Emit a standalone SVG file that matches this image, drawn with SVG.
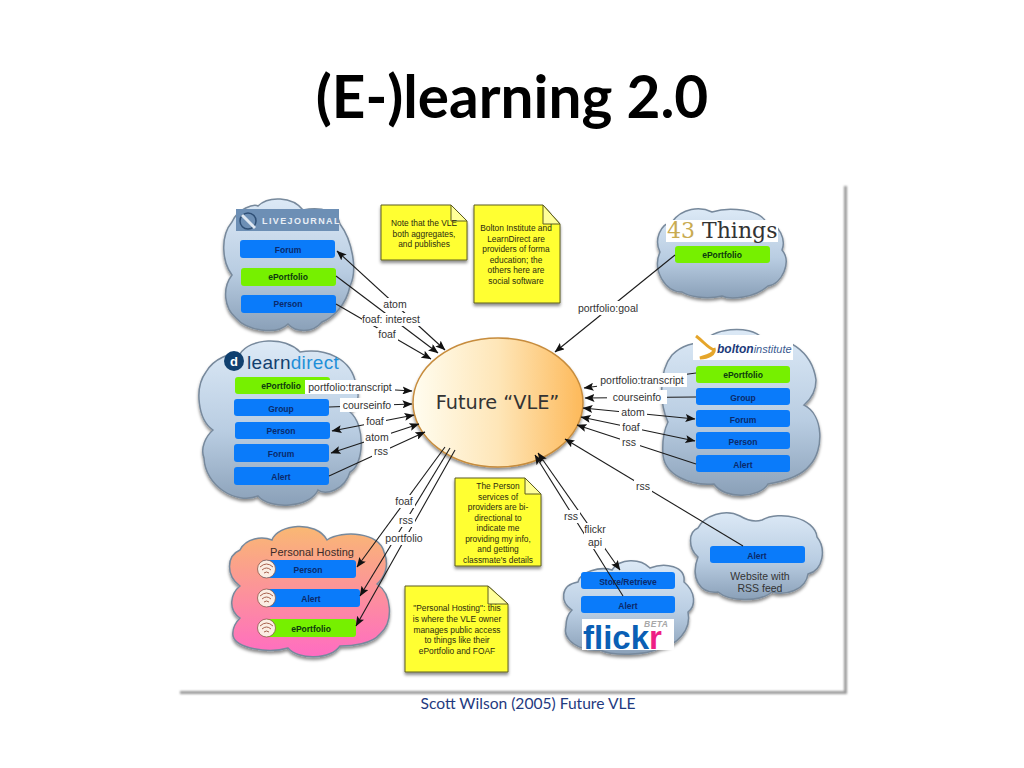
<svg xmlns="http://www.w3.org/2000/svg" width="1024" height="768" viewBox="0 0 1024 768">
<style>
text{font-family:"Liberation Sans",Arial,sans-serif}
.cloud{stroke:#77899c;stroke-width:1.5;filter:url(#sh)}
.blue{fill:url(#cb)}
.box{fill:#0a7bfa}
.green{fill:#76f000}
.bt{font-size:8.5px;font-weight:bold;fill:#0b2a6b;text-anchor:middle}
.gt{font-size:8.5px;font-weight:bold;fill:#0c3a10;text-anchor:middle}
.note{fill:#ffff33;stroke:#5c5c20;stroke-width:1;filter:url(#sh)}
.fold{fill:#ffff99;stroke:#5c5c20;stroke-width:1}
.nt{font-size:8.4px;fill:#2b2b10;text-anchor:middle}
.ln{stroke:#1c1c1c;stroke-width:1.1;fill:none}
.lab{font-size:10.5px;fill:#333;text-anchor:middle}
.bg{fill:#fff}
.ar{marker-end:url(#a)}
.as{marker-start:url(#a)}
.wifi{fill:#fbeee4;stroke:#8a5a4a;stroke-width:.8}
.arc{fill:none;stroke:#a8604c;stroke-width:1}
</style>
<defs>
<linearGradient id="cb" x1="0" y1="0" x2="0" y2="1"><stop offset="0" stop-color="#dce9f6"/><stop offset=".55" stop-color="#b9cde2"/><stop offset="1" stop-color="#8aa0b8"/></linearGradient>
<linearGradient id="cp" x1="0" y1="0" x2="0" y2="1"><stop offset="0" stop-color="#f9b873"/><stop offset="1" stop-color="#ff6cc2"/></linearGradient>
<linearGradient id="el" x1="0" y1="0" x2="1" y2="0"><stop offset="0" stop-color="#fffdf0"/><stop offset=".5" stop-color="#fee6b8"/><stop offset="1" stop-color="#fdb95a"/></linearGradient>
<filter id="sh" x="-10%" y="-10%" width="125%" height="125%"><feDropShadow dx="0" dy="2.5" stdDeviation="1.8" flood-color="#000" flood-opacity=".45"/></filter>
<filter id="fs" x="-5%" y="-5%" width="110%" height="110%"><feGaussianBlur stdDeviation="1"/></filter>
<marker id="a" viewBox="0 0 10 8" refX="9.5" refY="4" markerWidth="10" markerHeight="8" markerUnits="userSpaceOnUse" orient="auto-start-reverse"><path d="M0,0L10,4L0,8L2,4Z" fill="#111"/></marker>
</defs>
<rect width="1024" height="768" fill="#fff"/>
<text x="512" y="118" font-size="58.500" font-weight="bold" text-anchor="middle" fill="#000" style="font-family:Lato,'Open Sans',sans-serif">(E-)learning 2.0</text>
<g id="frame">
<path d="M845.500,186V692.500H180" fill="none" stroke="#9a9a9a" stroke-width="3" filter="url(#fs)"/>
</g>
<text x="528" y="709" font-size="15.600" text-anchor="middle" fill="#1f3a80" style="font-family:Lato,'Open Sans',sans-serif">Scott Wilson (2005) Future VLE</text>

<g id="livejournal">
<path class="cloud blue" d="M232,275C222,262 220,236 232,222C238,208 254,204 258,206C268,196 292,196 303,210C322,206 338,212 340,224C352,240 358,270 350,286C346,306 332,318 322,322C312,334 295,332 288,324C276,336 246,330 236,318C224,308 222,288 232,275Z"/>
<rect x="236" y="209" width="103" height="22" fill="#6d8fb5"/>
<circle cx="248" cy="221" r="8" fill="none" stroke="#2f4f75" stroke-width="1.500"/>
<path d="M242,215L255,228" stroke="#dfe8f2" stroke-width="3"/>
<text x="262" y="224" font-size="9" font-weight="bold" fill="#e8eef5" letter-spacing="1.400">LIVEJOURNAL</text>
<rect class="box" x="240" y="240" width="95" height="18" rx="3"/><text class="bt" x="288" y="253">Forum</text>
<rect class="green" x="241" y="268" width="95" height="18" rx="3"/><text class="gt" x="288" y="280">ePortfolio</text>
<rect class="box" x="241" y="295" width="95" height="18" rx="3"/><text class="bt" x="288" y="307">Person</text>
</g>

<g id="learndirect">
<path class="cloud blue" d="M213,430C198,420 194,388 206,372C214,358 232,352 240,354C250,338 285,336 300,352C325,348 352,358 356,385C360,395 358,405 350,412C366,425 364,465 350,472C345,490 325,496 318,490C310,508 270,510 258,496C235,505 205,485 204,458C200,448 206,436 213,430Z"/>
<circle cx="234" cy="361" r="10" fill="#10406f"/>
<text x="234" y="366" font-size="13" font-weight="bold" fill="#fff" text-anchor="middle">d</text>
<text x="247" y="369" font-size="19" fill="#123f6e" letter-spacing=".3">learn<tspan fill="#1f8fd8">direct</tspan></text>
<rect class="green" x="235" y="377" width="95" height="17" rx="3"/><text class="gt" x="281" y="389">ePortfolio</text>
<rect class="box" x="234" y="399" width="95" height="17" rx="3"/><text class="bt" x="281" y="412">Group</text>
<rect class="box" x="235" y="422" width="95" height="17" rx="3"/><text class="bt" x="281" y="434">Person</text>
<rect class="box" x="234" y="444" width="95" height="18" rx="3"/><text class="bt" x="281" y="457">Forum</text>
<rect class="box" x="234" y="467" width="95" height="18" rx="3"/><text class="bt" x="281" y="480">Alert</text>
</g>

<g id="things43">
<path class="cloud blue" d="M660,252C654,240 660,224 672,222C682,208 700,206 712,212C730,206 760,210 766,222C780,224 786,240 782,250C792,262 782,284 768,286C755,298 730,300 722,296C705,300 688,296 682,292C665,292 652,270 660,252Z"/>
<rect x="666" y="220" width="112" height="22" fill="#fff"/>
<text x="667" y="238" font-size="22" style="font-family:'DejaVu Serif',serif" fill="#c9ab52">43 <tspan fill="#333">Things</tspan></text>
<rect class="green" x="675" y="246" width="95" height="17" rx="3"/><text class="gt" x="722" y="258">ePortfolio</text>
</g>

<g id="bolton">
<path class="cloud blue" d="M668,422C660,405 658,372 672,355C682,345 695,342 702,344C710,328 750,324 762,338C785,335 812,350 816,380C816,392 810,400 804,405C824,415 824,450 810,465C800,478 780,482 768,484C760,498 725,500 714,484C690,486 665,475 663,455C662,440 664,430 668,422Z"/>
<rect x="693" y="335" width="100" height="25" fill="#fff"/>
<path d="M696,336C704,342 708,348 714,350C714,354 706,356 700,358C708,358 716,354 714,348" fill="none" stroke="#e5a52a" stroke-width="3"/>
<text x="717" y="353" font-size="12" font-style="italic" fill="#1c3a7a"><tspan font-weight="bold">bolton</tspan><tspan font-size="11" fill="#3a5a90">institute</tspan></text>
<rect class="green" x="696" y="366" width="94" height="17" rx="3"/><text class="gt" x="743" y="378">ePortfolio</text>
<rect class="box" x="696" y="388" width="94" height="17" rx="3"/><text class="bt" x="743" y="401">Group</text>
<rect class="box" x="696" y="410" width="94" height="17" rx="3"/><text class="bt" x="743" y="423">Forum</text>
<rect class="box" x="696" y="432" width="94" height="17" rx="3"/><text class="bt" x="743" y="445">Person</text>
<rect class="box" x="696" y="455" width="94" height="17" rx="3"/><text class="bt" x="743" y="468">Alert</text>
</g>

<g id="personal-hosting">
<path class="cloud" fill="url(#cp)" d="M240,586C226,576 226,556 240,550C246,538 262,536 272,540C278,524 316,520 327,540C342,530 380,532 384,552C390,566 384,578 377,584C392,594 394,622 380,634C372,644 352,646 340,646C330,660 298,660 288,648C268,654 236,648 233,636C232,628 236,622 240,618C228,610 230,594 240,586Z"/>
<text x="312" y="556" font-size="11" fill="#3a2a2a" text-anchor="middle">Personal Hosting</text>
<rect class="box" x="262" y="560" width="94" height="18" rx="3"/><text class="bt" x="308" y="573">Person</text>
<rect class="box" x="265" y="589" width="95" height="18" rx="3"/><text class="bt" x="311" y="602">Alert</text>
<rect class="green" x="265" y="619" width="91" height="18" rx="3"/><text class="gt" x="311" y="632">ePortfolio</text>
<g id="wifi-icons">
<circle class="wifi" cx="266.500" cy="569" r="9"/><path class="arc" d="M260,567Q266.500,561 273,567M262,570Q266.500,566 271,570M264,573Q266.500,571 269,573"/>
<circle class="wifi" cx="266.500" cy="598" r="9"/><path class="arc" d="M260,596Q266.500,590 273,596M262,599Q266.500,595 271,599M264,602Q266.500,600 269,602"/>
<circle class="wifi" cx="266.500" cy="628" r="9"/><path class="arc" d="M260,626Q266.500,620 273,626M262,629Q266.500,625 271,629M264,632Q266.500,630 269,632"/>
</g>
</g>

<g id="website">
<path class="cloud blue" d="M698,557C688,548 688,532 698,528C704,516 725,508 740,516C750,522 756,522 762,520C780,510 815,518 817,537C826,548 824,570 808,574C806,590 785,596 772,592C760,602 730,602 718,592C700,594 690,578 698,557Z"/>
<rect class="box" x="710" y="546" width="95" height="17" rx="3"/><text class="bt" x="757" y="559">Alert</text>
<text x="760" y="580" font-size="10.500" fill="#333" text-anchor="middle">Website with</text>
<text x="760" y="592" font-size="10.500" fill="#333" text-anchor="middle">RSS feed</text>
</g>

<g id="flickr">
<path class="cloud blue" d="M572,610C560,602 560,585 578,582C580,572 600,566 612,570C620,558 640,558 650,568C665,562 686,566 684,582C696,592 696,606 688,612C692,630 676,646 660,648C645,656 612,656 600,650C580,652 562,640 566,626C566,620 568,614 572,610Z"/>
<rect class="box" x="581" y="572" width="94" height="17" rx="3"/><text class="bt" x="628" y="585">Store/Retrieve</text>
<rect class="box" x="581" y="596" width="94" height="17" rx="3"/><text class="bt" x="628" y="609">Alert</text>
<rect x="582" y="619" width="92" height="31" fill="#fff"/>
<text x="583" y="649" font-size="33" font-weight="bold" fill="#0a5fb5">flick<tspan fill="#ee1f85">r</tspan></text>
<text x="644" y="627" font-size="8.500" font-weight="bold" font-style="italic" fill="#a8a8a8" letter-spacing=".5">BETA</text>
</g>

<g id="note-aggregates">
<path class="note" d="M381,205H451L467,221V260H381Z"/><path class="fold" d="M451,205V221H467Z"/>
<text class="nt" x="424" y="226">Note that the VLE</text><text class="nt" x="424" y="237">both aggregates,</text><text class="nt" x="424" y="247">and publishes</text>
</g>
<g id="note-bolton">
<path class="note" d="M474,205H543L560,224V303H474Z"/><path class="fold" d="M543,205V224H560Z"/>
<text class="nt" x="516" y="231">Bolton Institute and</text><text class="nt" x="516" y="242">LearnDirect are</text><text class="nt" x="516" y="252">providers of forma</text><text class="nt" x="516" y="263">education; the</text><text class="nt" x="516" y="273">others here are</text><text class="nt" x="516" y="284">social software</text>
</g>
<g id="note-person">
<path class="note" d="M455,478H525L541,494V566H455Z"/><path class="fold" d="M525,478V494H541Z"/>
<text class="nt" x="498" y="489">The Person</text><text class="nt" x="498" y="499.500">services of</text><text class="nt" x="498" y="510">providers are bi-</text><text class="nt" x="498" y="520.500">directional to</text><text class="nt" x="498" y="531">indicate me</text><text class="nt" x="498" y="541.500">providing my info,</text><text class="nt" x="498" y="552">and getting</text><text class="nt" x="498" y="562.500">classmate's details</text>
</g>
<g id="note-hosting">
<path class="note" d="M405,586H488L508,604V672H405Z"/><path class="fold" d="M488,586V604H508Z"/>
<text class="nt" x="457" y="611">"Personal Hosting": this</text><text class="nt" x="457" y="622">is where the VLE owner</text><text class="nt" x="457" y="633">manages public  access</text><text class="nt" x="457" y="643">to things like their</text><text class="nt" x="457" y="654">ePortfolio and FOAF</text>
</g>

<g id="future-vle">
<ellipse cx="498" cy="402.500" rx="85" ry="64.500" fill="url(#el)" stroke="#c78c3c" stroke-width="1.500" filter="url(#sh)"/>
<text x="497.500" y="409" font-size="19.300" fill="#333" text-anchor="middle" style="font-family:'DejaVu Sans',sans-serif">Future “VLE”</text>
</g>

<g id="connectors">
<line class="ln ar as" x1="445" y1="350" x2="337" y2="251"/>
<line class="ln ar" x1="336" y1="276" x2="438" y2="353"/>
<line class="ln ar" x1="336" y1="304" x2="431" y2="359"/>
<line class="ln ar" x1="330" y1="386" x2="412" y2="391"/>
<line class="ln ar" x1="329" y1="407" x2="412" y2="404"/>
<line class="ln ar as" x1="332" y1="431" x2="414" y2="415"/>
<line class="ln ar as" x1="331" y1="453" x2="419" y2="424"/>
<line class="ln ar" x1="329" y1="476" x2="425" y2="432"/>
<line class="ln ar" x1="445" y1="447" x2="357" y2="567"/>
<line class="ln ar" x1="450" y1="448" x2="360" y2="596"/>
<line class="ln ar" x1="455" y1="450" x2="356" y2="626"/>
<line class="ln ar" x1="623" y1="596" x2="535" y2="455"/>
<line class="ln ar as" x1="620" y1="570" x2="538" y2="453"/>
<line class="ln ar" x1="743" y1="546" x2="565" y2="439"/>
<line class="ln ar" x1="696" y1="373" x2="584" y2="388"/>
<line class="ln ar" x1="696" y1="397" x2="585" y2="398"/>
<line class="ln ar as" x1="695" y1="419" x2="583" y2="408"/>
<line class="ln ar as" x1="695" y1="441" x2="581" y2="417"/>
<line class="ln ar" x1="696" y1="464" x2="577" y2="425"/>
<line class="ln ar" x1="675" y1="255" x2="555" y2="352"/>

<rect class="bg" x="383" y="298" width="24" height="13"/><text class="lab" x="395" y="308">atom</text>
<rect class="bg" x="362" y="313" width="58" height="13"/><text class="lab" x="391" y="323">foaf: interest</text>
<rect class="bg" x="377" y="328" width="21" height="13"/><text class="lab" x="387" y="338">foaf</text>
<rect class="bg" x="305" y="380" width="90" height="14"/><text class="lab" x="350" y="391">portfolio:transcript</text>
<rect class="bg" x="340" y="398" width="54" height="14"/><text class="lab" x="367" y="409">courseinfo</text>
<rect class="bg" x="364" y="415" width="22" height="13"/><text class="lab" x="375" y="425">foaf</text>
<rect class="bg" x="364" y="430" width="27" height="13"/><text class="lab" x="377" y="441">atom</text>
<rect class="bg" x="372" y="445" width="18" height="13"/><text class="lab" x="381" y="455">rss</text>
<rect class="bg" x="393" y="495" width="22" height="13"/><text class="lab" x="404" y="505">foaf</text>
<rect class="bg" x="397" y="514" width="18" height="13"/><text class="lab" x="406" y="524">rss</text>
<rect class="bg" x="385" y="532" width="38" height="13"/><text class="lab" x="404" y="542">portfolio</text>
<rect class="bg" x="562" y="510" width="18" height="13"/><text class="lab" x="571" y="520">rss</text>
<rect class="bg" x="584" y="523" width="22" height="13"/><text class="lab" x="595" y="533">flickr</text>
<rect class="bg" x="585" y="536" width="20" height="13"/><text class="lab" x="595" y="546">api</text>
<rect class="bg" x="634" y="480" width="18" height="13"/><text class="lab" x="643" y="490">rss</text>
<rect class="bg" x="597" y="373" width="90" height="14"/><text class="lab" x="642" y="384">portfolio:transcript</text>
<rect class="bg" x="607" y="390" width="60" height="14"/><text class="lab" x="637" y="401">courseinfo</text>
<rect class="bg" x="619" y="406" width="28" height="13"/><text class="lab" x="633" y="416">atom</text>
<rect class="bg" x="620" y="421" width="22" height="13"/><text class="lab" x="631" y="431">foaf</text>
<rect class="bg" x="620" y="436" width="20" height="13"/><text class="lab" x="629" y="446">rss</text>
<rect class="bg" x="575" y="301" width="66" height="14"/><text class="lab" x="608" y="312">portfolio:goal</text>
</g>
</svg>
